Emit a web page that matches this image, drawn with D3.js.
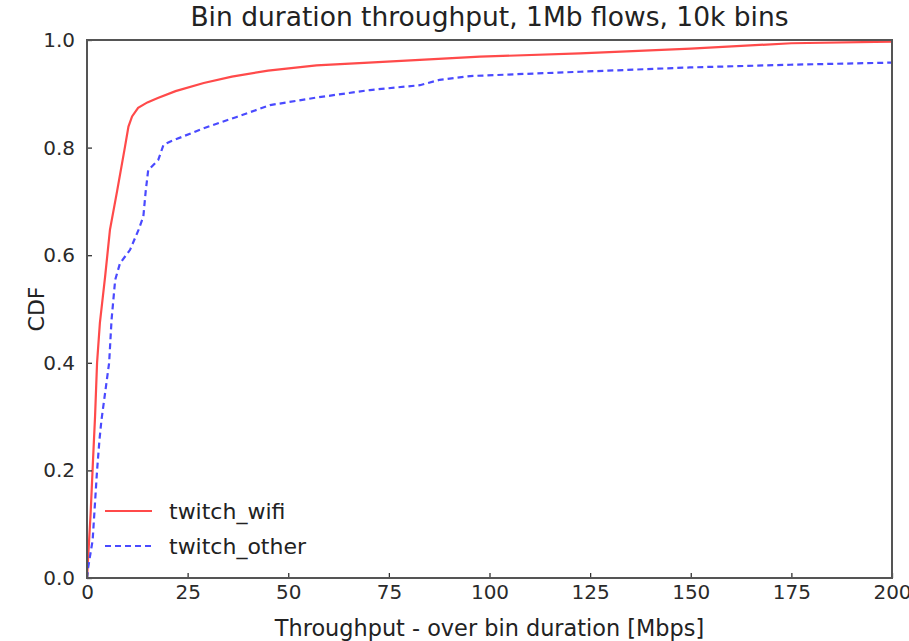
<!DOCTYPE html>
<html>
<head>
<meta charset="utf-8">
<script src="https://cdn.jsdelivr.net/npm/d3@7"></script>
<style>
  html, body { margin: 0; padding: 0; background: #fff; }
  svg { display: block; font-family: "DejaVu Sans", sans-serif; }
</style>
</head>
<body>
<svg id="chart" width="909" height="641"></svg>
<script>
// Throughput (Mbps) and cumulative fraction for each flow group
const wifiX = [0, 0.3, 0.9, 1.5, 2.0, 2.5, 3.2, 4.5, 5.7, 7.5, 9.4, 10.3, 11.2, 12.7, 15, 17.6, 22, 29, 36, 45, 57, 70, 85, 97.6, 122.5, 150, 175, 200];
const wifiY = [0, 0.04, 0.12, 0.22, 0.30, 0.40, 0.474, 0.56, 0.647, 0.72, 0.80, 0.839, 0.858, 0.874, 0.884, 0.892, 0.905, 0.92, 0.932, 0.943, 0.953, 0.958, 0.964, 0.969, 0.975, 0.984, 0.994, 0.997];

const otherX = [0, 0.3, 1.4, 2.5, 3.1, 3.6, 5.5, 6.1, 7.0, 8.2, 10.7, 12.8, 14.0, 14.6, 15.2, 17.7, 19.0, 20.6, 29, 37.2, 45.5, 57, 70.3, 82.7, 87.6, 95.2, 122.5, 149.8, 174.7, 200];
const otherY = [0, 0.02, 0.07, 0.2, 0.257, 0.294, 0.4, 0.48, 0.554, 0.585, 0.61, 0.647, 0.672, 0.72, 0.758, 0.777, 0.805, 0.811, 0.836, 0.857, 0.879, 0.893, 0.907, 0.916, 0.926, 0.933, 0.941, 0.949, 0.954, 0.958];

const xTicks = [0, 25, 50, 75, 100, 125, 150, 175, 200];
const yTicks = [0, 0.2, 0.4, 0.6, 0.8, 1.0];

const seriesNames = ["twitch_wifi", "twitch_other"];
const seriesColors = ["#ff4a4a", "#4a4aff"];
const seriesDash = [null, "6,4"];

const titleText = "Bin duration throughput, 1Mb flows, 10k bins";
const xLabel = "Throughput - over bin duration [Mbps]";
const yLabel = "CDF";

const svg = d3.select("#chart");
const m = { left: 87, right: 892, top: 40, bottom: 578 };

const x = d3.scaleLinear().domain([0, 200]).range([m.left, m.right]);
const y = d3.scaleLinear().domain([0, 1]).range([m.bottom, m.top]);

const series = [
  d3.zip(wifiX, wifiY),
  d3.zip(otherX, otherY)
];

svg.append("defs").append("clipPath").attr("id", "plotClip")
  .append("rect")
  .attr("x", m.left).attr("y", m.top - 2)
  .attr("width", m.right - m.left).attr("height", m.bottom - m.top + 2);

const line = d3.line().x(d => x(d[0])).y(d => y(d[1]));

const plot = svg.append("g").attr("clip-path", "url(#plotClip)");
series.forEach((s, i) => {
  plot.append("path")
    .datum(s)
    .attr("d", line)
    .attr("fill", "none")
    .attr("stroke", seriesColors[i])
    .attr("stroke-width", 2.2)
    .attr("stroke-dasharray", seriesDash[i]);
});

// Axes with inward ticks
const xAxis = d3.axisBottom(x).tickValues(xTicks).tickFormat(d3.format("d"))
  .tickSizeInner(-5).tickSizeOuter(0).tickPadding(7);
const yAxis = d3.axisLeft(y).tickValues(yTicks).tickFormat(d3.format(".1f"))
  .tickSizeInner(-5).tickSizeOuter(0).tickPadding(12);

const gx = svg.append("g").attr("transform", `translate(0,${m.bottom})`).call(xAxis);
const gy = svg.append("g").attr("transform", `translate(${m.left},0)`).call(yAxis);
[gx, gy].forEach(g => {
  g.select(".domain").remove();
  g.selectAll(".tick line").attr("stroke", "#333").attr("stroke-width", 1.3);
  g.selectAll(".tick text").attr("fill", "#2a2a2a").attr("font-size", 20)
    .attr("font-family", "DejaVu Sans");
});
gx.selectAll(".tick text").attr("dy", "0.71em");

// Frame
svg.append("rect")
  .attr("x", m.left).attr("y", m.top)
  .attr("width", m.right - m.left).attr("height", m.bottom - m.top)
  .attr("fill", "none").attr("stroke", "#555").attr("stroke-width", 2);

// Title and axis labels
svg.append("text")
  .attr("x", (m.left + m.right) / 2).attr("y", 26)
  .attr("text-anchor", "middle").attr("font-size", 26.5).attr("fill", "#222")
  .text(titleText);

svg.append("text")
  .attr("x", (m.left + m.right) / 2).attr("y", 636)
  .attr("text-anchor", "middle").attr("font-size", 22.4).attr("fill", "#222")
  .text(xLabel);

svg.append("text")
  .attr("transform", `translate(44,${(m.top + m.bottom) / 2}) rotate(-90)`)
  .attr("text-anchor", "middle").attr("font-size", 22).attr("fill", "#222")
  .text(yLabel);

// Legend
const legend = svg.append("g");
seriesNames.forEach((name, i) => {
  const ly = 511 + i * 35;
  legend.append("line")
    .attr("x1", 105).attr("x2", 152).attr("y1", ly).attr("y2", ly)
    .attr("stroke", seriesColors[i]).attr("stroke-width", 2.2)
    .attr("stroke-dasharray", seriesDash[i]);
  legend.append("text")
    .attr("x", 169).attr("y", ly + 8)
    .attr("font-size", 22).attr("fill", "#222")
    .text(name);
});
</script>
</body>
</html>
